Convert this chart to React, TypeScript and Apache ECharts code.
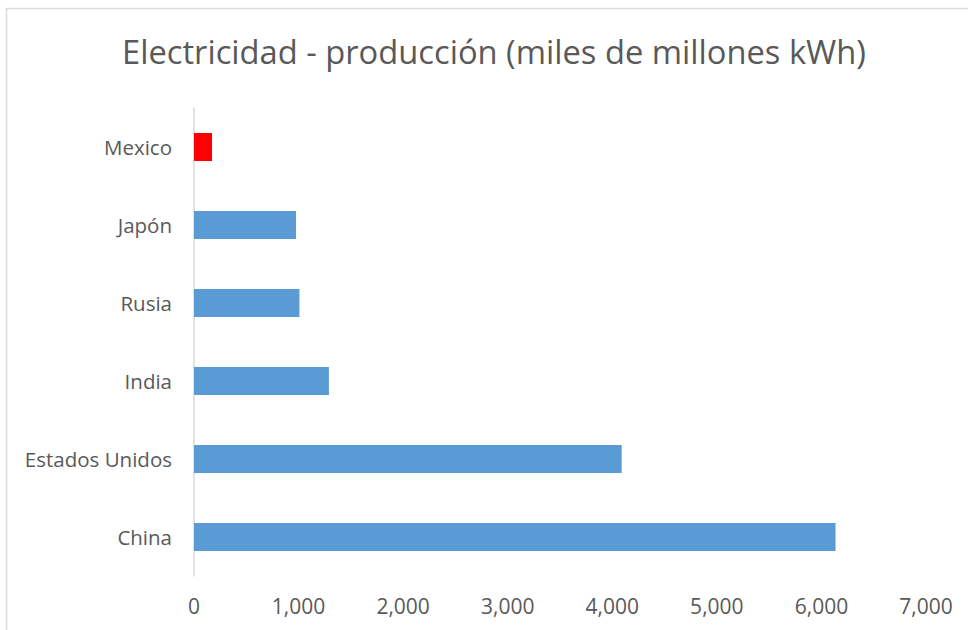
import React, { useEffect, useRef } from "react";
import * as echarts from "echarts";

const titleText = "Electricidad - producción (miles de millones kWh)";
const categories = ["China", "Estados Unidos", "India", "Rusia", "Japón", "Mexico"];
const values = [6135, 4090, 1290, 1008, 976, 172];
const highlight = "Mexico";
const xTicks = { min: 0, max: 7000, interval: 1000 };

const FONT = "'Open Sans', sans-serif";
const TEXT = "#595959";

export default function App() {
  const ref = useRef<HTMLDivElement>(null);
  useEffect(() => {
    document.body.style.margin = "0";
    const chart = echarts.init(ref.current!, undefined, { renderer: "svg" });
    chart.setOption({
      animation: false,
      backgroundColor: "#ffffff",
      title: {
        text: titleText,
        left: 117,
        top: 30,
        textStyle: { fontFamily: FONT, fontSize: 32.7, fontWeight: "normal", color: TEXT },
      },
      graphic: [
        {
          type: "rect",
          shape: { x: 6.5, y: 8.5, width: 1000, height: 700 },
          style: { fill: "none", stroke: "#d9d9d9", lineWidth: 1.5 },
          silent: true,
        },
      ],
      grid: { left: 194, right: 42, top: 108, bottom: 54 },
      xAxis: {
        type: "value",
        min: xTicks.min,
        max: xTicks.max,
        interval: xTicks.interval,
        splitLine: { show: false },
        axisLine: { show: false },
        axisTick: { show: false },
        axisLabel: {
          margin: 19,
          color: TEXT,
          fontFamily: FONT,
          fontSize: 21,
          formatter: (v: number) => v.toLocaleString("en-US"),
        },
      },
      yAxis: {
        type: "category",
        data: categories,
        axisLine: { show: true, lineStyle: { color: "#d9d9d9", width: 1.5 } },
        axisTick: { show: false },
        axisLabel: { margin: 22, color: TEXT, fontFamily: FONT, fontSize: 20.5 },
      },
      series: [
        {
          type: "bar",
          barWidth: 28,
          data: values.map((v, i) => ({
            value: v,
            itemStyle: { color: categories[i] === highlight ? "#ff0000" : "#5b9bd5" },
          })),
        },
      ],
    });
    return () => chart.dispose();
  }, []);
  return <div ref={ref} style={{ width: 968, height: 630 }} />;
}
